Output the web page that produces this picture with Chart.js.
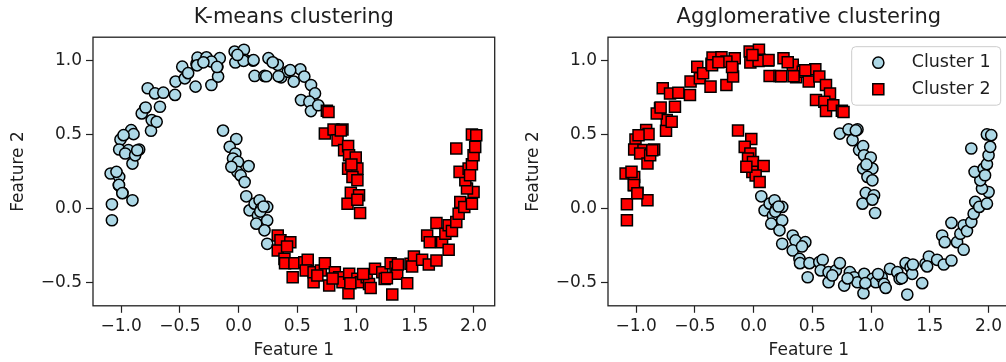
<!DOCTYPE html>
<html><head><meta charset="utf-8">
<script src="https://cdn.jsdelivr.net/npm/chart.js@4.4.1/dist/chart.umd.min.js"></script>
<style>
html,body{margin:0;padding:0;background:#fff;overflow:hidden;width:1006px;height:362px;}
#wrap{position:relative;width:1006px;height:362px;overflow:hidden;}
canvas{position:absolute;top:0;}
#c1{left:0;} #c2{left:515px;}
</style></head><body>
<div id="wrap"><canvas id="c1" width="504" height="362"></canvas><canvas id="c2" width="504" height="362"></canvas></div>
<script>
// ---- data (Feature 1, Feature 2) grouped by the labels they get in each panel ----
// upper moon, main arc: K-means cluster 1, agglomerative cluster 2
const upperMain = [[-1.079,-0.077],[-1.079,0.031],[-0.989,0.108],[-0.904,0.058],[-1.09,0.239],[-1.017,0.216],[-1.04,0.25],[-1.02,0.16],[-1.006,0.469],[-1.017,0.401],[-0.938,0.397],[-0.966,0.374],[-0.904,0.306],[-0.881,0.362],[-0.847,0.401],[-0.915,0.532],[-0.895,0.505],[-0.98,0.498],[-0.746,0.528],[-0.74,0.60],[-0.797,0.679],[-0.825,0.645],[-0.774,0.815],[-0.712,0.78],[-0.67,0.69],[-0.698,0.588],[-0.641,0.785],[-0.542,0.77],[-0.537,0.86],[-0.458,0.882],[-0.48,0.961],[-0.43,0.917],[-0.367,0.826],[-0.359,0.98],[-0.35,1.022],[-0.274,1.024],[-0.232,0.837],[-0.175,0.894],[-0.181,0.961],[-0.161,1.018],[-0.232,0.995],[-0.034,1.063],[0.045,1.075],[-0.028,0.989],[0.051,1.007],[0.121,1.002],[0.136,0.898],[0.22,0.898],[0.254,1.018],[0.333,0.973],[0.362,0.889],[0.418,0.927],[0.469,0.86],[0.525,0.943],[0.559,0.894],[0.616,0.837],[0.65,0.78],[0.531,0.735],[0.602,0.724],[0.616,0.661],[0.678,0.70],[0.042,1.0],[0.34,0.896],[0.439,0.937],[0.235,0.896],[0.127,1.005],[-0.184,0.959],[-0.354,0.97],[-0.792,0.685],[-0.863,0.396],[-1.019,0.162],[-0.99,0.106],[-0.3,0.99],[-0.01,1.04],[0.29,0.99]];
// upper moon, just past the K-means split: K-means cluster 2, agglomerative cluster 2
const upperMid = [[0.751,0.663],[0.765,0.655]];
// upper moon, right tip: K-means cluster 2, agglomerative cluster 1
const upperTip = [[0.734,0.509],[0.808,0.537],[0.884,0.537],[0.842,0.464],[0.898,0.397],[0.932,0.424],[0.94,0.362],[0.997,0.347],[0.932,0.272],[1.011,0.272],[0.969,0.216],[1.011,0.193],[0.955,0.108],[1.025,0.092],[0.927,0.035],[1.011,0.062],[1.034,-0.028],[0.87,0.53],[0.96,0.30]];
// lower moon, left tip: K-means cluster 1, agglomerative cluster 2
const lowerTip = [[-0.133,0.529],[-0.02,0.472],[-0.076,0.419],[-0.028,0.374],[-0.048,0.34],[-0.006,0.317],[0.085,0.289],[-0.011,0.25],[0.017,0.226],[0.051,0.181],[-0.062,0.284]];
// lower moon, left part: K-means cluster 1, agglomerative cluster 1
const lowerLeft = [[0.065,0.085],[0.093,-0.01],[0.136,0.035],[0.178,0.058],[0.192,0.002],[0.243,0.013],[0.164,-0.044],[0.15,-0.1],[0.243,-0.078],[0.22,-0.145],[0.243,-0.236],[0.184,-0.018],[0.212,0.016]];
// lower moon, rest: K-means cluster 2, agglomerative cluster 1
const lowerRest = [[0.333,-0.18],[0.356,-0.213],[0.333,-0.281],[0.39,-0.338],[0.44,-0.225],[0.412,-0.254],[0.395,-0.367],[0.475,-0.367],[0.46,-0.462],[0.559,-0.36],[0.588,-0.344],[0.571,-0.416],[0.638,-0.496],[0.638,-0.428],[0.70,-0.416],[0.734,-0.367],[0.771,-0.518],[0.819,-0.428],[0.856,-0.462],[0.884,-0.496],[0.941,-0.439],[0.935,-0.57],[1.011,-0.473],[1.04,-0.496],[1.09,-0.462],[1.11,-0.507],[1.124,-0.534],[1.161,-0.405],[1.223,-0.428],[1.243,-0.473],[1.294,-0.367],[1.308,-0.579],[1.336,-0.394],[1.35,-0.439],[1.356,-0.376],[1.435,-0.502],[1.463,-0.371],[1.492,-0.322],[1.477,-0.389],[1.562,-0.344],[1.619,-0.376],[1.684,-0.349],[1.605,-0.18],[1.627,-0.225],[1.684,-0.095],[1.732,-0.225],[1.76,-0.168],[1.788,-0.276],[1.788,-0.111],[1.816,-0.15],[1.853,-0.089],[1.873,-0.033],[1.887,0.047],[1.921,0.013],[1.986,0.035],[2.0,0.114],[1.944,0.137],[1.93,0.193],[1.881,0.25],[1.958,0.272],[1.986,0.302],[2.0,0.362],[2.014,0.419],[1.986,0.503],[2.023,0.498],[1.853,0.408],[1.97,0.227],[0.951,-0.502],[1.262,-0.468],[0.8,-0.47],[1.06,-0.44],[0.67,-0.45]];

const kmeansCluster1 = [...upperMain, ...lowerTip, ...lowerLeft];
const kmeansCluster2 = [...upperMid, ...upperTip, ...lowerRest];
const aggloCluster1 = [...upperTip, ...lowerLeft, ...lowerRest];
const aggloCluster2 = [...upperMain, ...upperMid, ...lowerTip];

const xTickValues = [-1.0, -0.5, 0.0, 0.5, 1.0, 1.5, 2.0];
const xTickLabels = ['\u22121.0', '\u22120.5', '0.0', '0.5', '1.0', '1.5', '2.0'];
const yTickValues = [-0.5, 0.0, 0.5, 1.0];
const yTickLabels = ['\u22120.5', '0.0', '0.5', '1.0'];
const seriesNames = ['Cluster 1', 'Cluster 2'];

const FONT = 'DejaVu Sans';
const TXT = '#1e1e1e';

const framePlugin = {
  id: 'frame',
  afterDatasetsDraw(chart) {
    const { ctx, chartArea: a } = chart;
    ctx.save();
    ctx.strokeStyle = '#222';
    ctx.lineWidth = 1.3;
    ctx.strokeRect(a.left, a.top, a.right - a.left, a.bottom - a.top);
    ctx.restore();
  }
};

const legendBoxPlugin = {
  id: 'legendBox',
  afterDraw(chart, args, opts) {
    if (!opts || !opts.show) return;
    const { ctx, chartArea: a } = chart;
    const w = 149, h = 58.5;
    const x = a.right - 9 - w, y = a.top + 9.5, r = 4;
    ctx.save();
    ctx.beginPath();
    ctx.moveTo(x + r, y); ctx.lineTo(x + w - r, y); ctx.arcTo(x + w, y, x + w, y + r, r);
    ctx.lineTo(x + w, y + h - r); ctx.arcTo(x + w, y + h, x + w - r, y + h, r);
    ctx.lineTo(x + r, y + h); ctx.arcTo(x, y + h, x, y + h - r, r);
    ctx.lineTo(x, y + r); ctx.arcTo(x, y, x + r, y, r);
    ctx.closePath();
    ctx.fillStyle = 'rgba(255,255,255,0.8)';
    ctx.fill();
    ctx.strokeStyle = '#cccccc';
    ctx.lineWidth = 1;
    ctx.stroke();
    chart.data.datasets.forEach((ds, i) => {
      const mx = x + 26.6, my = y + 16 + i * 26.6;
      ctx.fillStyle = ds.backgroundColor;
      ctx.strokeStyle = ds.borderColor;
      ctx.lineWidth = ds.borderWidth;
      ctx.beginPath();
      if (ds.pointStyle === 'rect') {
        const s = Math.SQRT1_2 * ds.pointRadius;
        ctx.rect(mx - s, my - s, 2 * s, 2 * s);
      } else {
        ctx.arc(mx, my, ds.pointRadius, 0, Math.PI * 2);
      }
      ctx.fill(); ctx.stroke();
      ctx.fillStyle = TXT;
      ctx.font = '17.5px "' + FONT + '"';
      ctx.textBaseline = 'middle';
      ctx.textAlign = 'left';
      ctx.fillText(ds.label, x + 60, my);
    });
    ctx.restore();
  }
};

function toXY(arr) { return arr.map(([x, y]) => ({ x, y })); }
function lookup(vals, labels, v) {
  const i = vals.findIndex(t => Math.abs(t - v) < 1e-9);
  return i >= 0 ? labels[i] : '';
}

function makeChart(id, title, c1, c2, showLegend) {
  const tickFont = { family: FONT, size: 17 };
  const grid = { display: true, drawOnChartArea: false, drawTicks: true, tickLength: 7, tickWidth: 1.2, tickColor: '#222' };
  return new Chart(document.getElementById(id), {
    type: 'scatter',
    data: {
      datasets: [
        { label: seriesNames[0], data: toXY(c1), pointStyle: 'circle', pointRadius: 5.6, pointHoverRadius: 5.6,
          backgroundColor: '#add8e6', borderColor: '#000', borderWidth: 1.5, order: 1 },
        { label: seriesNames[1], data: toXY(c2), pointStyle: 'rect', pointRadius: 7.8, pointHoverRadius: 7.8,
          backgroundColor: '#ff0000', borderColor: '#000', borderWidth: 1.5, order: 0 }
      ]
    },
    options: {
      responsive: false,
      animation: false,
      devicePixelRatio: 1,
      events: [],
      layout: { padding: { left: 0, right: 8, top: 0, bottom: 0 } },
      scales: {
        x: {
          type: 'linear', min: -1.24, max: 2.18,
          afterBuildTicks: s => { s.ticks = xTickValues.map(v => ({ value: v })); },
          afterFit: s => { s.height = 56.2; },
          ticks: { autoSkip: false, maxRotation: 0, padding: 4, color: TXT, font: tickFont,
                   callback: v => lookup(xTickValues, xTickLabels, v) },
          grid: grid,
          border: { display: false },
          title: { display: true, text: 'Feature 1', color: TXT, font: tickFont, padding: { top: 0, bottom: 1 } }
        },
        y: {
          type: 'linear', min: -0.655, max: 1.16,
          afterBuildTicks: s => { s.ticks = yTickValues.map(v => ({ value: v })); },
          afterFit: s => { s.width = 93; },
          ticks: { autoSkip: false, padding: 4, color: TXT, font: tickFont,
                   callback: v => lookup(yTickValues, yTickLabels, v) },
          grid: grid,
          border: { display: false },
          title: { display: true, text: 'Feature 2', color: TXT, font: tickFont, padding: { top: 8, bottom: 0 } }
        }
      },
      plugins: {
        legend: { display: false },
        tooltip: { enabled: false },
        title: { display: true, text: title, fullSize: false, color: TXT,
                 font: { family: FONT, size: 21, weight: 'normal' }, padding: { top: 5, bottom: 7 } },
        legendBox: { show: showLegend }
      }
    },
    plugins: [framePlugin, legendBoxPlugin]
  });
}

makeChart('c1', 'K-means clustering', kmeansCluster1, kmeansCluster2, false);
makeChart('c2', 'Agglomerative clustering', aggloCluster1, aggloCluster2, true);
</script>
</body></html>
